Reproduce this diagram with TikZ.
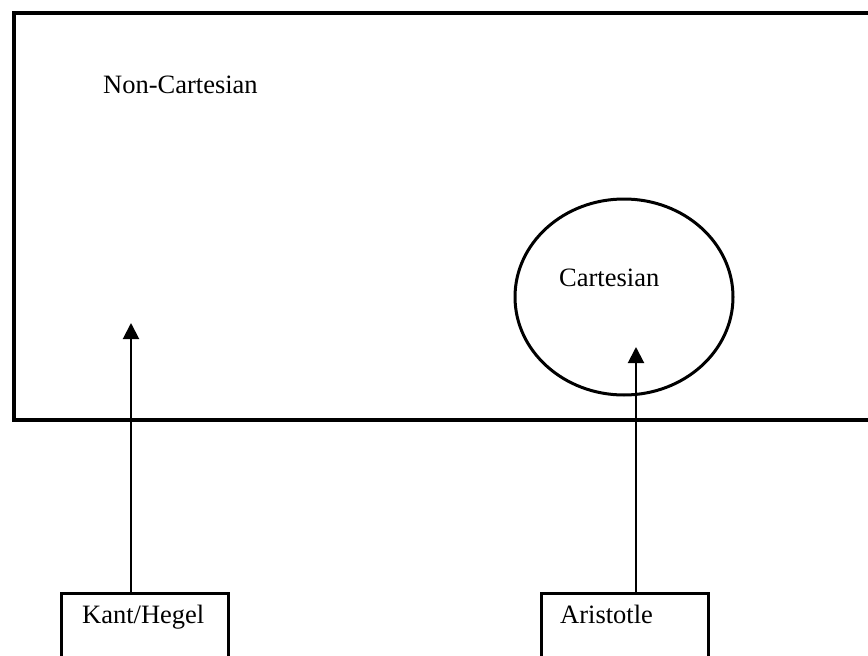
\documentclass[tikz,border=0pt]{standalone}
\usepackage{fontspec}
\setmainfont{Liberation Serif}
\usetikzlibrary{arrows.meta,shapes.geometric}

\tikzset{
  frame/.style={draw, line width=4pt, minimum width=900pt, minimum height=407pt, inner sep=0pt, anchor=north west},
  circlebox/.style={draw, ellipse, line width=3pt, minimum width=218pt, minimum height=196pt, inner sep=0pt},
  labelbox/.style={draw, line width=2.5pt, minimum width=167pt, minimum height=110pt, inner sep=0pt, anchor=north west},
  caption/.style={anchor=base west, inner sep=0pt, font=\fontsize{26.5}{32}\selectfont},
  uparrow/.style={line width=2pt, -{Triangle[length=16pt, width=16pt]}}
}

\begin{document}
\begin{tikzpicture}[x=1pt, y=-1pt]
  \useasboundingbox (0,0) rectangle (868,656);
  \fill[white] (0,0) rectangle (868,656);
  \clip (0,0) rectangle (868,656);

  % outer region, running past the right edge
  \node[frame] (outer) at (12,11) {};
  \node[caption] (noncart) at (103,93) {Non-Cartesian};

  % inner region
  \node[circlebox] (cart) at (624,297) {};
  \node[caption] (carttext) at (559,286) {Cartesian};

  % source boxes at the bottom
  \node[labelbox] (kant) at (60,592) {};
  \node[caption] (kanttext) at (82,623) {Kant/Hegel};
  \node[labelbox] (aristotle) at (540,592) {};
  \node[caption] (aristext) at (560,623) {Aristotle};

  % arrow tips
  \coordinate (kanttip) at (131,323);
  \coordinate (aristip) at (636,347);

  \draw[uparrow] (kant.north -| kanttip) -- (kanttip);
  \draw[uparrow] (aristotle.north -| aristip) -- (aristip);
\end{tikzpicture}
\end{document}
